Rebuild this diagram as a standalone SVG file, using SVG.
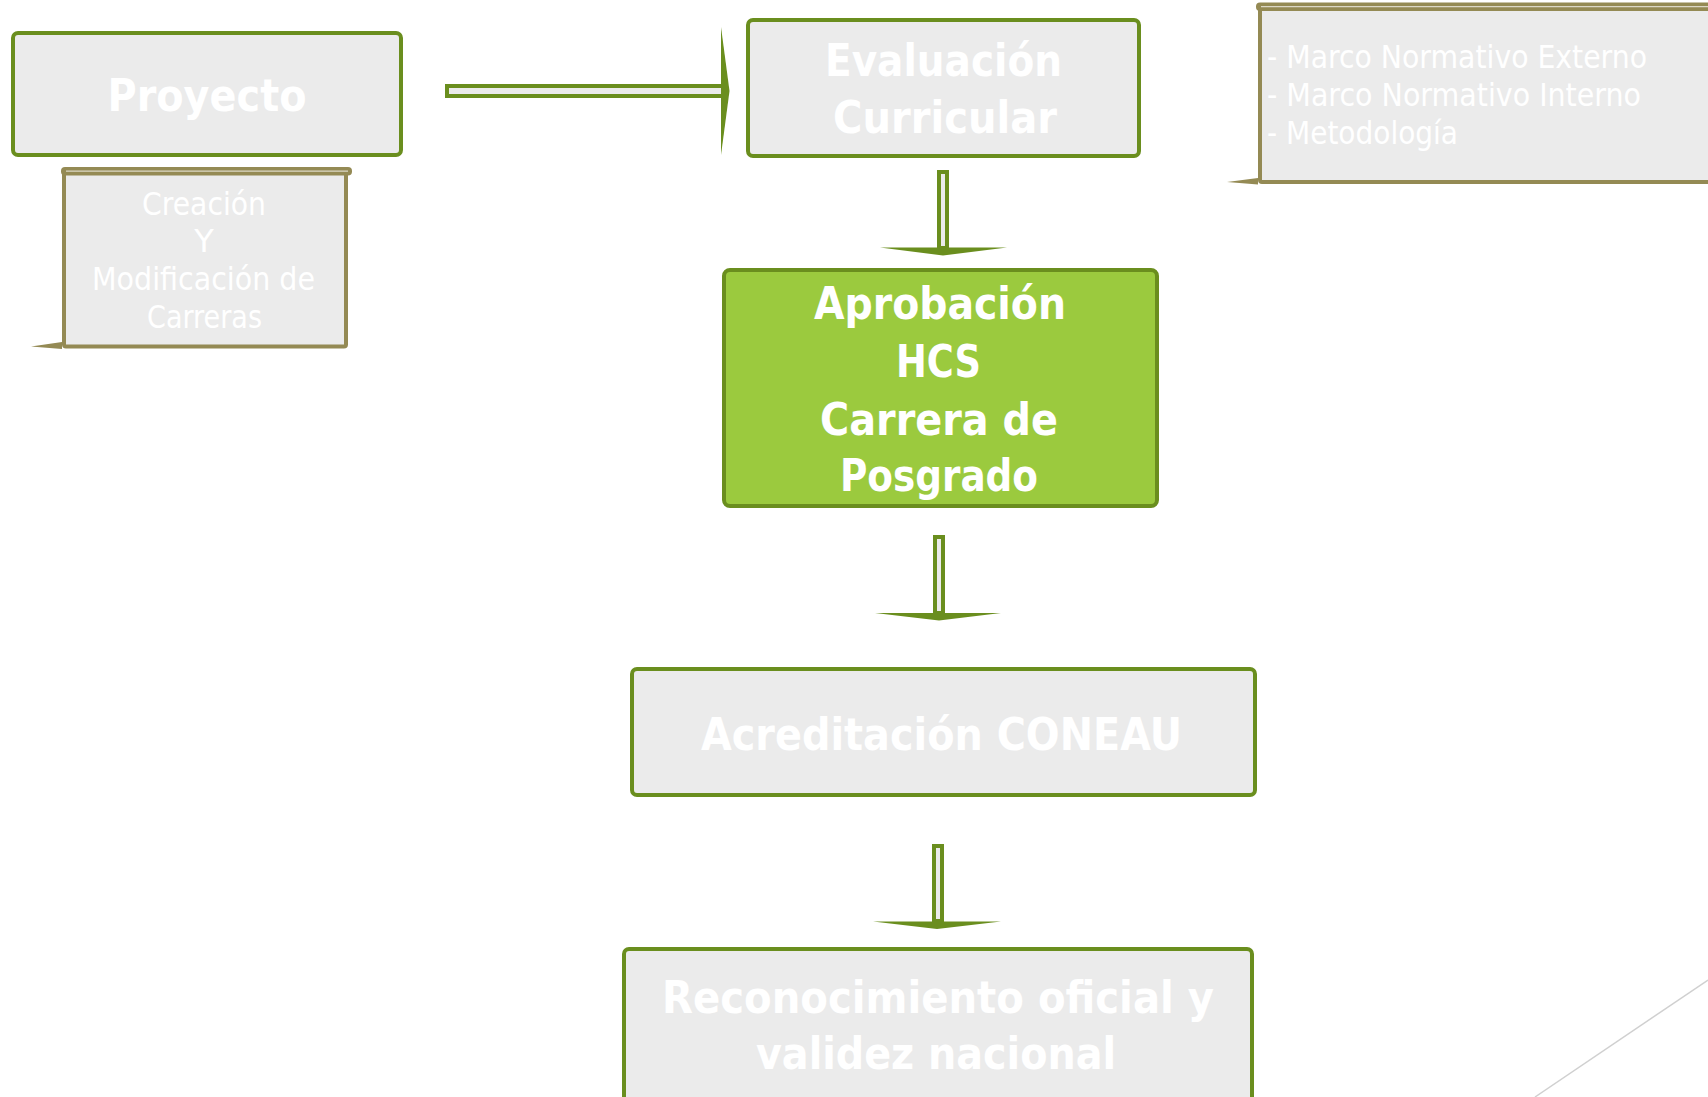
<svg xmlns="http://www.w3.org/2000/svg" width="1708" height="1097" viewBox="0 0 1708 1097">
<style>
  .box { fill: #EBEBEB; stroke: #6A8E1E; stroke-width: 4; }
  .hl { fill: #9BCA3E; stroke: #6A8E1E; stroke-width: 4; }
  .note { fill: #EBEBEB; stroke: #948A54; stroke-width: 4; }
  .bar { fill: #948A54; }
  .barline { stroke: #DCD8C6; stroke-width: 1.3; }
  .ptr { fill: #948A54; }
  .shaft { fill: #EBEBEB; stroke: #6A8E1E; stroke-width: 4; }
  .head { fill: #6A8E1E; }
  .t { font-family: "DejaVu Sans", "Liberation Sans", sans-serif; fill: #FFFFFF; text-anchor: middle; }
  .b { font-size: 45px; font-weight: bold; }
  .r { font-size: 32px; }
  .l { text-anchor: start; }
</style>
<rect width="1708" height="1097" fill="#FFFFFF"/>
<line x1="1708" y1="980" x2="1535" y2="1097" stroke="#D0D0D0" stroke-width="1.5"/>

<g id="connectors">
  <g id="c-proyecto-evaluacion">
    <rect class="shaft" x="447" y="86" width="278" height="10"/>
    <polygon class="head" points="721,27 729.5,91 721,155"/>
  </g>
  <g id="c-evaluacion-aprobacion">
    <rect class="shaft" x="939" y="172" width="8" height="76"/>
    <polygon class="head" points="880,247.5 1007,247.5 943,255.5"/>
  </g>
  <g id="c-aprobacion-acreditacion">
    <rect class="shaft" x="935" y="537" width="8" height="76"/>
    <polygon class="head" points="875,613 1001,613 939,620.5"/>
  </g>
  <g id="c-acreditacion-reconocimiento">
    <rect class="shaft" x="934" y="846" width="8" height="75"/>
    <polygon class="head" points="873,921.5 1001,921.5 937,929"/>
  </g>
</g>

<g id="proyecto">
  <rect class="box" x="13" y="33" width="388" height="122" rx="5"/>
  <text class="t b" x="207" y="111" textLength="199" lengthAdjust="spacingAndGlyphs">Proyecto</text>
</g>

<g id="creacion">
  <rect class="note" x="64" y="172" width="282" height="174.5" rx="2"/>
  <rect class="bar" x="61" y="167" width="291" height="8.5" rx="4"/>
  <line class="barline" x1="66" y1="171.2" x2="348" y2="171.2"/>
  <polygon class="ptr" points="31,346.5 62,342 62,349"/>
  <text class="t r" x="204" y="215" textLength="124" lengthAdjust="spacingAndGlyphs">Creación</text>
  <text class="t r" x="204" y="252">Y</text>
  <text class="t r" x="203.5" y="290" textLength="223" lengthAdjust="spacingAndGlyphs">Modificación de</text>
  <text class="t r" x="204.5" y="328" textLength="115" lengthAdjust="spacingAndGlyphs">Carreras</text>
</g>

<g id="evaluacion">
  <rect class="box" x="748" y="20" width="391" height="136" rx="5"/>
  <text class="t b" x="943.5" y="76" textLength="237" lengthAdjust="spacingAndGlyphs">Evaluación</text>
  <text class="t b" x="945" y="133" textLength="224" lengthAdjust="spacingAndGlyphs">Curricular</text>
</g>

<g id="marco">
  <rect class="note" x="1260" y="8" width="500" height="174" rx="2"/>
  <rect class="bar" x="1256" y="2.5" width="500" height="8.5" rx="4"/>
  <line class="barline" x1="1261" y1="6.7" x2="1708" y2="6.7"/>
  <polygon class="ptr" points="1227,182 1258,178 1258,184.5"/>
  <text class="t r l" x="1267" y="68" textLength="380" lengthAdjust="spacingAndGlyphs">- Marco Normativo Externo</text>
  <text class="t r l" x="1267" y="106" textLength="374" lengthAdjust="spacingAndGlyphs">- Marco Normativo Interno</text>
  <text class="t r l" x="1267" y="144" textLength="191" lengthAdjust="spacingAndGlyphs">- Metodología</text>
</g>

<g id="aprobacion">
  <rect class="hl" x="724" y="270" width="433" height="236" rx="6"/>
  <text class="t b" x="940" y="319" textLength="252" lengthAdjust="spacingAndGlyphs">Aprobación</text>
  <text class="t b" x="938.5" y="377" textLength="85" lengthAdjust="spacingAndGlyphs">HCS</text>
  <text class="t b" x="939" y="435" textLength="238" lengthAdjust="spacingAndGlyphs">Carrera de</text>
  <text class="t b" x="939" y="491" textLength="198" lengthAdjust="spacingAndGlyphs">Posgrado</text>
</g>

<g id="acreditacion">
  <rect class="box" x="632" y="669" width="623" height="126" rx="5"/>
  <text class="t b" x="941.5" y="750" textLength="481" lengthAdjust="spacingAndGlyphs">Acreditación CONEAU</text>
</g>

<g id="reconocimiento">
  <rect class="box" x="624" y="949" width="628" height="200" rx="5"/>
  <text class="t b" x="938" y="1013" textLength="552" lengthAdjust="spacingAndGlyphs">Reconocimiento oficial y</text>
  <text class="t b" x="936" y="1069" textLength="360" lengthAdjust="spacingAndGlyphs">validez nacional</text>
</g>
</svg>
